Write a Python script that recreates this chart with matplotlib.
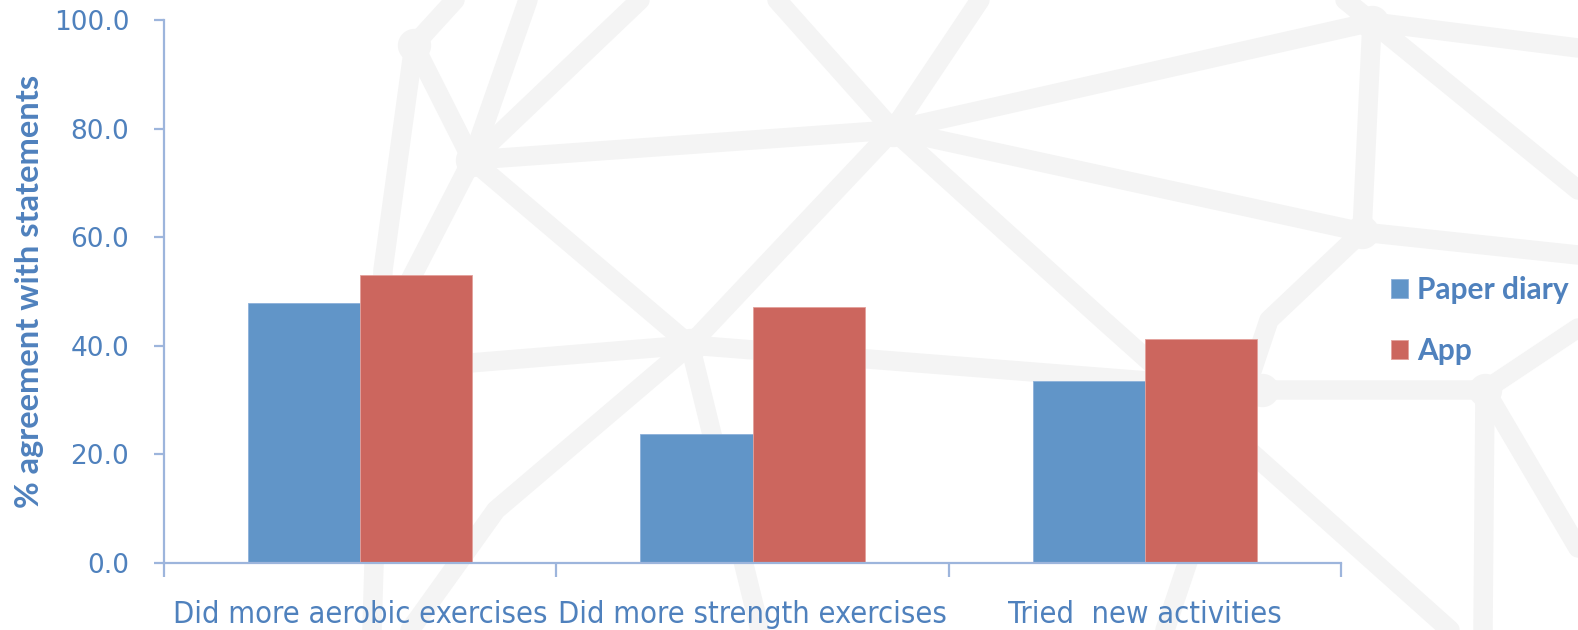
import matplotlib
matplotlib.use("Agg")
import matplotlib.pyplot as plt
from matplotlib import font_manager as fm
from matplotlib.textpath import TextPath
import numpy as np

# ---- data ----
categories = ["Did more aerobic exercises", "Did more strength exercises", "Tried  new activities"]
series_names = ["Paper diary", "App"]
paper_diary = [47.8, 23.7, 33.4]
app = [53.1, 47.1, 41.3]
y_ticks = [0, 20, 40, 60, 80, 100]

BLUE = "#6195C8"
RED = "#CC665E"
TEXT = "#4F81BD"
AXIS = "#9DB5DC"
NET = "#F4F4F4"

W, H, DPI = 1578, 630, 100
fig = plt.figure(figsize=(W / DPI, H / DPI), dpi=DPI)
fig.patch.set_facecolor("white")


def narrow_sans():
    """Prefer a condensed sans face for the category labels if one is installed."""
    wanted = ["Liberation Sans Narrow", "Arial Narrow", "DejaVu Sans Condensed"]
    entries = fm.fontManager.ttflist
    for name in wanted:
        for f in entries:
            if f.name == name and f.style == "normal" and f.weight in (400, "normal", "regular"):
                return fm.FontProperties(fname=f.fname)
    for f in entries:
        if (f.name.startswith("DejaVu Sans") and "condensed" in str(f.stretch).lower()
                and f.style == "normal" and f.weight in (400, "normal", "regular")
                and "Mono" not in f.name):
            return fm.FontProperties(fname=f.fname)
    return fm.FontProperties(family="Liberation Sans")


# ---- decorative network backdrop (figure pixel space) ----
bg = fig.add_axes([0, 0, 1, 1], zorder=0)
bg.set_xlim(0, W)
bg.set_ylim(H, 0)
bg.axis("off")
nodes = {
    "F": (414, 45), "A": (472, 160), "B": (893, 130), "C": (690, 345),
    "D": (1372, 22), "E": (1362, 232), "G": (1485, 390), "J": (1262, 390),
}
paths = [
    [(455, 0), "F", (383, 270), (372, 630)],
    ["F", "A"], ["A", (528, 0)], ["A", (640, 0)], ["A", "B"],
    ["A", (405, 290)], ["A", "C"],
    ["C", (360, 372)], ["C", (496, 510), (410, 630)], ["C", (760, 630)],
    ["C", "J", "G"], ["G", (1578, 328)],
    ["B", (777, 0)], ["B", (980, 0)], ["B", "D"], ["B", "E"],
    ["B", (1103, 320), (1450, 630)], ["B", "C"],
    ["D", (1345, 0)], ["D", (1578, 48)], ["D", "E"], ["D", (1578, 190)],
    ["E", (1578, 255)], ["E", (1269, 320), (1165, 630)],
    ["G", (1483, 630)], ["G", (1578, 548)],
]
for p in paths:
    pts = np.array([nodes[q] if isinstance(q, str) else q for q in p], dtype=float)
    bg.plot(pts[:, 0], pts[:, 1], color=NET, lw=14, solid_capstyle="round",
            solid_joinstyle="round")
for (x, y) in nodes.values():
    bg.plot(x, y, "o", color=NET, ms=24, mew=0)

# ---- chart ----
ax = fig.add_axes([164 / W, 67.3 / H, (1341 - 164) / W, (562.7 - 20) / H], zorder=1)
ax.patch.set_alpha(0)

x = np.arange(1, len(categories) + 1)
bw = 1 / 3.5
ax.bar(x - bw / 2, paper_diary, bw, color=BLUE, edgecolor="#8DB1DA", linewidth=0.6,
       label=series_names[0])
ax.bar(x + bw / 2, app, bw, color=RED, edgecolor="#E3A19B", linewidth=0.6,
       label=series_names[1])

ax.set_xlim(0.5, len(categories) + 0.5)
ax.set_ylim(0, 100)

for s in ["top", "right"]:
    ax.spines[s].set_visible(False)
for s in ["left", "bottom"]:
    ax.spines[s].set_color(AXIS)
    ax.spines[s].set_linewidth(1.6)

ax.set_yticks(y_ticks)
ax.set_yticklabels([f"{v:.1f}" for v in y_ticks])
ax.tick_params(axis="y", direction="out", length=7, width=1.6, color=AXIS,
               labelcolor=TEXT, labelsize=19, pad=18)
for t in ax.get_yticklabels():
    t.set_family("DejaVu Sans")

# category labels: size chosen so the longest label spans ~370 px
cat_fp = narrow_sans()
em_width = TextPath((0, 0), categories[0], size=100, prop=cat_fp).get_extents().width / 100
cat_size = min(26.0, 370 * 72 / DPI / em_width)
cat_fp.set_size(cat_size)

ax.set_xticks(x)
ax.set_xticklabels(categories, fontproperties=cat_fp)
ax.set_xticks(np.arange(0.5, len(categories) + 1, 1.0), minor=True)
ax.tick_params(axis="x", which="major", length=0, labelcolor=TEXT, pad=27)
ax.tick_params(axis="x", which="minor", direction="out", length=10, width=1.6, color=AXIS)

ax.set_ylabel("% agreement with statements", color=TEXT, fontsize=23.5,
              fontweight="bold", family="Lato", labelpad=7)

leg = ax.legend(loc="upper left", bbox_to_anchor=(1391 / W, 1 - 276 / H),
                bbox_transform=fig.transFigure, frameon=False,
                prop={"family": "Lato", "weight": "bold", "size": 21.5},
                handlelength=0.57, handleheight=0.6, handletextpad=0.3,
                labelspacing=1.09, borderaxespad=0, borderpad=0)
for t in leg.get_texts():
    t.set_color(TEXT)

fig.savefig("out.png", dpi=DPI, facecolor="white")
